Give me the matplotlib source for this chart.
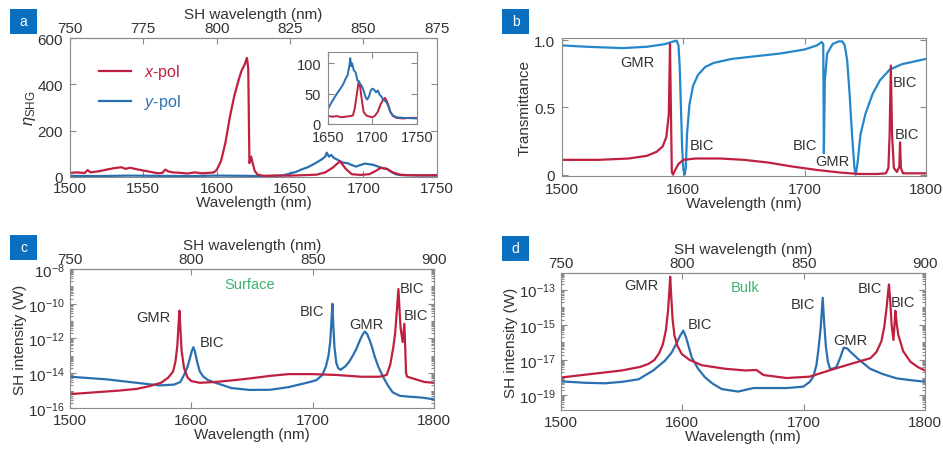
import numpy as np
import matplotlib
matplotlib.use("Agg")
import matplotlib.pyplot as plt
from matplotlib.patches import Rectangle
from matplotlib.ticker import LogLocator, NullFormatter

plt.rcParams['font.family'] = ['Liberation Sans', 'DejaVu Sans']
plt.rcParams['font.size'] = 10
plt.rcParams['mathtext.fontset'] = 'custom'
plt.rcParams['mathtext.rm'] = 'Liberation Sans'
plt.rcParams['mathtext.it'] = 'Liberation Sans:italic'

RED = '#c0203f'
BLUE = '#2a6fb0'
BLUE_B = '#2487cc'
GREEN = '#3cb46e'
GREY = '#8a8a8a'
TXT = '#333333'
LBL = 11      # tick / axis label size

###################################
# data
###################################
# panel a: SHG efficiency, (wavelength nm, eta)
a_xpol = [(1500, 18), (1505, 20), (1510, 17), (1512, 30), (1514, 20), (1520, 25),
          (1525, 32), (1530, 38), (1535, 42), (1538, 35), (1541, 40), (1545, 34),
          (1550, 28), (1555, 22), (1560, 16), (1563, 18), (1565, 32), (1567, 24),
          (1570, 20), (1575, 18), (1580, 15), (1585, 20), (1590, 16), (1595, 18),
          (1598, 20), (1600, 30), (1603, 70), (1606, 150), (1609, 260), (1612, 350),
          (1615, 420), (1617, 460), (1619, 485), (1620.6, 514), (1621.5, 470),
          (1622.3, 60), (1623.5, 88), (1624.5, 60), (1626, 25), (1628, 10),
          (1632, 5), (1640, 6), (1650, 6), (1660, 8), (1668, 10), (1674, 20),
          (1679, 40), (1684, 68), (1688, 35), (1692, 12), (1698, 9), (1704, 12),
          (1708, 25), (1712, 40), (1716, 35), (1720, 20), (1725, 10), (1730, 8),
          (1740, 7), (1750, 8)]
a_ypol = [(1500, 5), (1520, 4), (1540, 6), (1560, 5), (1580, 4), (1600, 6),
          (1620, 5), (1630, 4), (1640, 5), (1646, 8), (1650, 15), (1654, 22),
          (1658, 33), (1662, 42), (1666, 55), (1669, 66), (1672, 78), (1674, 88),
          (1675, 105), (1676.5, 88), (1678, 95), (1680, 82), (1683, 72), (1686, 62),
          (1689, 60), (1692, 52), (1695, 45), (1698, 52), (1701, 58), (1704, 55),
          (1707, 52), (1710, 45), (1713, 38), (1716, 35), (1719, 22), (1722, 12),
          (1726, 8), (1735, 7), (1750, 6)]
# inset of panel a
ins_xpol = [(1650, 13), (1655, 12), (1660, 13), (1665, 11), (1670, 12), (1675, 13),
            (1678, 14), (1680, 25), (1682, 45), (1684, 65), (1685, 70), (1686, 62),
            (1688, 40), (1690, 20), (1693, 14), (1697, 12), (1700, 11), (1703, 14),
            (1706, 20), (1709, 32), (1712, 40), (1714, 43), (1716, 38), (1718, 30),
            (1720, 20), (1723, 13), (1727, 10), (1735, 9), (1740, 10), (1750, 10)]
ins_ypol = [(1650, 25), (1652, 30), (1655, 38), (1658, 45), (1661, 52), (1664, 58),
            (1667, 65), (1670, 75), (1672, 80), (1674, 95), (1675, 108), (1676, 95),
            (1677, 100), (1679, 88), (1681, 85), (1683, 72), (1685, 68), (1688, 62),
            (1690, 55), (1692, 45), (1694, 40), (1696, 45), (1698, 55), (1700, 58),
            (1702, 56), (1704, 52), (1706, 55), (1708, 48), (1710, 45), (1712, 40),
            (1714, 38), (1716, 35), (1718, 28), (1720, 20), (1723, 14), (1727, 11),
            (1735, 10), (1750, 9)]

# panel b: transmittance
b_ypol = [(1500, 0.96), (1520, 0.95), (1550, 0.94), (1570, 0.95), (1585, 0.97),
          (1592, 0.99), (1594.5, 0.995), (1596, 0.96), (1597, 0.8), (1598, 0.5),
          (1599, 0.2), (1600, 0.04), (1601, 0.0), (1602, 0.05), (1603, 0.3),
          (1605, 0.52), (1608, 0.66), (1612, 0.74), (1618, 0.8), (1625, 0.83),
          (1640, 0.86), (1660, 0.88), (1680, 0.9), (1700, 0.93), (1710, 0.96),
          (1714, 0.985), (1715.3, 0.97), (1715.8, 0.16), (1716.6, 0.7), (1718.5, 0.9),
          (1723, 0.97), (1728, 0.99), (1731, 0.99), (1733, 0.96), (1735, 0.85),
          (1737, 0.6), (1739, 0.3), (1741, 0.05), (1742, 0.0), (1743.5, 0.08),
          (1746, 0.3), (1750, 0.45), (1756, 0.6), (1762, 0.7), (1770, 0.78),
          (1780, 0.82), (1790, 0.84), (1800, 0.86)]
b_xpol = [(1500, 0.11), (1530, 0.11), (1555, 0.12), (1570, 0.14), (1578, 0.17),
          (1583, 0.21), (1586, 0.28), (1588, 0.45), (1589, 0.97), (1589.7, 0.5),
          (1590.5, 0.02), (1591.5, 0.0), (1593, 0.03), (1596, 0.08), (1600, 0.11),
          (1610, 0.12), (1630, 0.12), (1650, 0.11), (1670, 0.09), (1690, 0.06),
          (1710, 0.035), (1730, 0.015), (1745, 0.005), (1760, 0.005), (1767, 0.01),
          (1769, 0.05), (1770, 0.3), (1771, 0.81), (1772, 0.3), (1773.5, 0.05),
          (1776, 0.02), (1778, 0.06), (1778.6, 0.24), (1779.3, 0.05), (1781, 0.01),
          (1790, 0.01), (1800, 0.01)]

# panel c: surface SH intensity, (wavelength nm, log10 W)
c_xpol = [(1500, -15.2), (1520, -15.1), (1540, -15.0), (1555, -14.9), (1565, -14.75),
          (1575, -14.55), (1581, -14.25), (1585, -13.9), (1587, -13.3), (1588.5, -12.4),
          (1589.5, -11.2), (1590.2, -10.4), (1591, -11.4), (1592, -12.7), (1594, -13.7),
          (1597, -14.25), (1600, -14.45), (1607, -14.55), (1620, -14.5), (1635, -14.4),
          (1648, -14.3), (1665, -14.15), (1680, -14.05), (1700, -14.05), (1720, -14.1),
          (1740, -14.2), (1755, -14.2), (1761, -14.1), (1764, -13.5), (1766.5, -12.5),
          (1768, -11.7), (1769.3, -10.5), (1770.7, -9.15), (1771.5, -10.2), (1772.5, -11.4),
          (1774.2, -12.2), (1775.6, -11.15), (1776.3, -12.5), (1777, -14.0), (1778, -14.2),
          (1785, -14.35), (1792, -14.5), (1800, -14.55)]
c_ypol = [(1500, -14.2), (1530, -14.35), (1555, -14.55), (1574, -14.7), (1586, -14.65),
          (1591, -14.5), (1594, -14.1), (1597, -13.6), (1599, -13.1), (1600.5, -12.7),
          (1601.7, -12.5), (1603, -12.75), (1605, -13.4), (1607, -13.9), (1610, -14.2),
          (1614, -14.4), (1618, -14.5), (1633, -14.85), (1648, -14.96), (1665, -14.95),
          (1680, -14.8), (1695, -14.55), (1703, -14.4), (1708, -14.1), (1711, -13.6),
          (1713, -13.0), (1714.5, -12.2), (1715.5, -11.0), (1716.3, -10.0), (1717, -11.2),
          (1718, -12.5), (1719.5, -13.4), (1721, -13.7), (1723, -13.8), (1727, -13.6),
          (1730, -13.35), (1733, -13.0), (1736, -12.6), (1739, -12.1), (1741, -11.8),
          (1743, -11.6), (1745, -11.75), (1747, -12.1), (1749, -12.5), (1751, -13.0),
          (1754, -13.6), (1758, -14.2), (1762, -14.7), (1766, -15.1), (1772, -15.3),
          (1780, -15.35), (1790, -15.4), (1800, -15.5)]

# panel d: bulk SH intensity, (wavelength nm, log10 W)
d_xpol = [(1500, -18.0), (1525, -17.8), (1550, -17.6), (1565, -17.4), (1572, -17.23),
          (1577, -17.0), (1581, -16.6), (1584, -16.1), (1586.5, -15.3), (1588.2, -14.2),
          (1589.3, -13.1), (1590, -12.26), (1590.8, -13.3), (1592, -14.7), (1593.5, -15.6),
          (1596, -16.2), (1599.5, -16.66), (1606, -17.0), (1616, -17.3), (1635, -17.5),
          (1652, -17.6), (1661, -17.57), (1667, -17.86), (1686, -18.03), (1705, -17.95),
          (1727, -17.47), (1745, -17.1), (1755, -16.9), (1760, -16.55), (1764, -15.95),
          (1766.5, -15.1), (1768.4, -14.0), (1769.5, -13.2), (1770.3, -12.7), (1771.3, -13.6),
          (1772.5, -15.0), (1774, -15.86), (1775, -14.9), (1775.6, -14.2), (1776.8, -15.0),
          (1778, -15.57), (1782, -16.5), (1788, -17.1), (1794, -17.4), (1800, -17.6)]
d_ypol = [(1500, -18.22), (1520, -18.3), (1536, -18.33), (1550, -18.25), (1564, -18.1),
          (1576, -17.6), (1585.7, -17.04), (1591, -16.6), (1595, -16.09), (1598, -15.65),
          (1600.8, -15.33), (1603, -15.7), (1605.5, -16.3), (1607.7, -16.85), (1613, -17.5),
          (1618.7, -17.99), (1625, -18.35), (1632.5, -18.66), (1646, -18.8), (1658.5, -18.6),
          (1686, -18.6), (1699.7, -18.52), (1705, -18.25), (1708, -17.95), (1710.5, -17.3),
          (1712, -16.5), (1714, -15.2), (1715.7, -13.46), (1717, -15.0), (1718.4, -16.3),
          (1720, -17.1), (1721.7, -17.5), (1724, -17.5), (1727, -17.4), (1730, -16.9),
          (1733, -16.3), (1736, -16.35), (1738, -16.5), (1745, -16.95), (1754.7, -17.5),
          (1765, -17.8), (1776.7, -18.05), (1788, -18.15), (1800, -18.24)]

# peak labels: (text, wavelength, value)
b_labels = [('GMR', 1562, 0.84), ('BIC', 1615, 0.22), ('BIC', 1700, 0.22),
            ('GMR', 1722.6, 0.10), ('BIC', 1783, 0.69), ('BIC', 1784.6, 0.30)]
c_labels = [('GMR', 1568.7, -10.74), ('BIC', 1616.8, -12.18), ('BIC', 1699.2, -10.42),
            ('GMR', 1744.5, -11.19), ('BIC', 1782, -9.11), ('BIC', 1785, -10.65)]
d_labels = [('GMR', 1566.5, -12.75), ('BIC', 1614.6, -14.94), ('BIC', 1699.7, -13.8),
            ('GMR', 1738.2, -15.86), ('BIC', 1754.7, -12.9), ('BIC', 1782, -13.7)]


def xy(pairs):
    arr = np.array(pairs, dtype=float)
    return arr[:, 0], arr[:, 1]


def style(ax, log=False, size=LBL):
    for s in ax.spines.values():
        s.set_color(GREY)
        s.set_linewidth(0.8)
    ax.tick_params(which='both', direction='in', color=GREY, labelcolor=TXT,
                   labelsize=size, right=True, width=0.8)
    ax.tick_params(which='major', length=4)
    ax.tick_params(which='minor', length=2.5)
    if log:
        ax.yaxis.set_minor_locator(LogLocator(base=10, subs=np.arange(1, 10), numticks=100))
        ax.yaxis.set_minor_formatter(NullFormatter())


def top_axis(ax, ticks):
    ax.tick_params(top=False)
    sec = ax.secondary_xaxis('top', functions=(lambda x: x / 2.0, lambda x: x * 2.0))
    sec.set_xticks(ticks)
    sec.tick_params(direction='in', color=GREY, labelcolor=TXT, labelsize=LBL,
                    length=4, width=0.8, pad=2)
    sec.spines['top'].set_color(GREY)
    sec.set_xlabel('SH wavelength (nm)', color=TXT, fontsize=LBL, labelpad=2)
    return sec


def panel_tag(fig, x0, y0, letter):
    w, h = 27 / 943.0, 25 / 452.0
    fig.add_artist(Rectangle((x0, y0), w, h, transform=fig.transFigure,
                             facecolor='#0b6fc0', edgecolor='none'))
    fig.text(x0 + w / 2, y0 + h / 2, letter, color='white', fontsize=10,
             ha='center', va='center')


fig = plt.figure(figsize=(9.43, 4.52), dpi=100)

###################################
# panel a
###################################
ax = fig.add_axes([0.0742, 0.6062, 0.389, 0.3075])
x, y = xy(a_ypol)
ax.plot(x, y, color=BLUE, lw=1.6, label='$y$-pol')
x, y = xy(a_xpol)
ax.plot(x, y, color=RED, lw=1.6, label='$x$-pol')
ax.set_xlim(1500, 1750)
ax.set_ylim(0, 600)
ax.set_xticks(np.arange(1500, 1751, 50))
ax.set_yticks([0, 200, 400, 600])
style(ax)
ax.tick_params(axis='x', pad=3)
ax.tick_params(axis='y', pad=5)
top_axis(ax, [750, 775, 800, 825, 850, 875])
ax.set_xlabel('Wavelength (nm)', color=TXT, fontsize=LBL, labelpad=0)
ax.set_ylabel(r'$\eta_{\rm SHG}$', color=TXT, fontsize=12, labelpad=0)
h, l = ax.get_legend_handles_labels()
ax.legend(h[::-1], l[::-1], loc='upper left', frameon=False, fontsize=11.5,
          handlelength=2.0, labelspacing=0.7, labelcolor='linecolor',
          bbox_to_anchor=(0.04, 0.93))

ins = fig.add_axes([0.3478, 0.7235, 0.0944, 0.159])
x, y = xy(ins_xpol)
ins.plot(x, y, color=RED, lw=1.4)
x, y = xy(ins_ypol)
ins.plot(x, y, color=BLUE, lw=1.4)
ins.set_xlim(1650, 1750)
ins.set_ylim(0, 118)
ins.set_xticks([1650, 1700, 1750])
ins.set_yticks([0, 50, 100])
style(ins, size=10.5)
ins.tick_params(top=True)
ins.tick_params(axis='x', pad=4)
ins.tick_params(axis='y', pad=5)

###################################
# panel b
###################################
ax = fig.add_axes([0.596, 0.6084, 0.386, 0.3053])
x, y = xy(b_ypol)
ax.plot(x, y, color=BLUE_B, lw=1.6)
x, y = xy(b_xpol)
ax.plot(x, y, color=RED, lw=1.6)
ax.set_xlim(1500, 1800)
ax.set_ylim(-0.01, 1.015)
ax.set_xticks([1500, 1600, 1700, 1800])
ax.set_yticks([0, 0.5, 1.0])
ax.set_yticklabels(['0', '0.5', '1.0'])
style(ax)
ax.tick_params(top=True)
ax.tick_params(axis='x', pad=4)
ax.tick_params(axis='y', pad=5)
ax.set_xlabel('Wavelength (nm)', color=TXT, fontsize=LBL, labelpad=0)
ax.set_ylabel('Transmittance', color=TXT, fontsize=LBL, labelpad=2)
for t, lx, ly in b_labels:
    ax.text(lx, ly, t, ha='center', va='center', color=TXT, fontsize=10.5)

###################################
# panel c
###################################
ax = fig.add_axes([0.0742, 0.0951, 0.386, 0.3076])
x, y = xy(c_ypol)
ax.plot(x, 10 ** y, color=BLUE, lw=1.6)
x, y = xy(c_xpol)
ax.plot(x, 10 ** y, color=RED, lw=1.6)
ax.set_yscale('log')
ax.set_xlim(1500, 1800)
ax.set_ylim(1e-16, 1e-8)
ax.set_xticks([1500, 1600, 1700, 1800])
ax.set_yticks([1e-16, 1e-14, 1e-12, 1e-10, 1e-8])
style(ax, log=True)
top_axis(ax, [750, 800, 850, 900])
ax.set_xlabel('Wavelength (nm)', color=TXT, fontsize=LBL, labelpad=0)
ax.set_ylabel('SH intensity (W)', color=TXT, fontsize=LBL, labelpad=1)
for t, lx, ly in c_labels:
    ax.text(lx, 10 ** ly, t, ha='center', va='center', color=TXT, fontsize=10.5)
ax.text(1648.4, 10 ** -8.88, 'Surface', ha='center', va='center', color=GREEN, fontsize=10.5)

###################################
# panel d
###################################
ax = fig.add_axes([0.5949, 0.0907, 0.386, 0.3031])
x, y = xy(d_ypol)
ax.plot(x, 10 ** y, color=BLUE, lw=1.6)
x, y = xy(d_xpol)
ax.plot(x, 10 ** y, color=RED, lw=1.6)
ax.set_yscale('log')
ax.set_xlim(1500, 1800)
ax.set_ylim(10 ** -19.85, 10 ** -12.05)
ax.set_xticks([1500, 1600, 1700, 1800])
ax.set_yticks([1e-19, 1e-17, 1e-15, 1e-13])
style(ax, log=True)
top_axis(ax, [750, 800, 850, 900])
ax.set_xlabel('Wavelength (nm)', color=TXT, fontsize=LBL, labelpad=0)
ax.set_ylabel('SH intensity (W)', color=TXT, fontsize=LBL, labelpad=1)
for t, lx, ly in d_labels:
    ax.text(lx, 10 ** ly, t, ha='center', va='center', color=TXT, fontsize=10.5)
ax.text(1651.6, 10 ** -12.83, 'Bulk', ha='center', va='center', color=GREEN, fontsize=10.5)

panel_tag(fig, 10 / 943.0, 1 - 35 / 452.0, 'a')
panel_tag(fig, 502 / 943.0, 1 - 35 / 452.0, 'b')
panel_tag(fig, 10 / 943.0, 1 - 261 / 452.0, 'c')
panel_tag(fig, 502 / 943.0, 1 - 262 / 452.0, 'd')

fig.savefig('out.png', dpi=100, facecolor='white')
